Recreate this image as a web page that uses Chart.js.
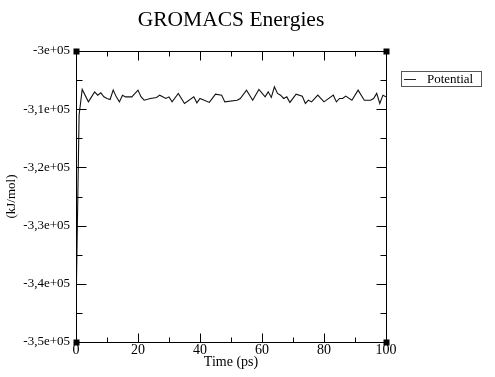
<!DOCTYPE html>
<html>
<head>
<meta charset="utf-8">
<script src="https://cdn.jsdelivr.net/npm/chart.js@4/dist/chart.umd.min.js"></script>
<style>
html,body{margin:0;padding:0;background:#fff;}
#wrap{width:495px;height:377px;position:relative;}
</style>
</head>
<body>
<div id="wrap"><canvas id="c" width="495" height="377"></canvas></div>
<script>
const chartTitle = 'GROMACS Energies';
const xAxisTitle = 'Time (ps)';
const yAxisTitle = '(kJ/mol)';
const seriesName = 'Potential';
const timePs = [0,1,2,4,6,7,8,9,10,11,12,13,14,15,16,18,20,21,22,24,26,27,29,30,31,33,35,38,39,40,43,45,47,48,52,53,55,57,59,61,62,63,64,65,66,67,68,69,71,73,74,75,76,78,80,83,84,85,86,87,89,91,93,95,96,97,98,99,100];
const potential = [-345000,-311000,-306600,-308740,-307020,-307590,-307190,-307880,-308160,-308330,-306720,-307880,-308740,-307590,-307880,-307880,-306720,-307880,-308450,-308160,-307980,-307590,-308160,-307880,-308740,-307290,-309020,-307880,-308910,-308160,-308840,-307410,-307590,-308740,-308450,-308160,-306720,-308450,-306600,-307880,-307020,-307980,-306160,-307290,-307590,-308160,-307880,-308840,-307410,-307760,-309020,-308450,-308740,-307590,-308740,-307590,-308740,-308160,-308160,-307760,-308450,-306720,-308450,-308450,-308160,-307290,-309020,-307590,-307880];
const yTickValues = [-350000,-340000,-330000,-320000,-310000,-300000];
const yTickLabels = ['-3,5e+05','-3,4e+05','-3,3e+05','-3,2e+05','-3,1e+05','-3e+05'];
const xTickValues = [0,20,40,60,80,100];
const xTickLabels = ['0','20','40','60','80','100'];

const SERIF = '"Liberation Serif", "DejaVu Serif", serif';

const framePlugin = {
  id: 'frame',
  afterDraw(chart) {
    const ctx = chart.ctx;
    const a = chart.chartArea;
    const xs = chart.scales.x, ys = chart.scales.y;
    ctx.save();
    ctx.strokeStyle = '#000';
    ctx.lineWidth = 1;
    const L = Math.round(a.left) + 0.5, R = Math.round(a.right) + 0.5;
    const T = Math.round(a.top) + 0.5, B = Math.round(a.bottom) + 0.5;
    ctx.beginPath();
    ctx.rect(L, T, R - L, B - T);
    ctx.stroke();
    for (let v = 0; v <= 100; v += 10) {
      const px = Math.round(xs.getPixelForValue(v)) + 0.5;
      const len = (v % 20 === 0) ? 9 : 5;
      ctx.beginPath();
      ctx.moveTo(px, B); ctx.lineTo(px, B - len);
      ctx.moveTo(px, T); ctx.lineTo(px, T + len);
      ctx.stroke();
    }
    for (let v = -350000; v <= -300000; v += 5000) {
      const py = Math.round(ys.getPixelForValue(v)) + 0.5;
      const len = (v % 10000 === 0) ? 10 : 6;
      ctx.beginPath();
      ctx.moveTo(L, py); ctx.lineTo(L + len, py);
      ctx.moveTo(R, py); ctx.lineTo(R - len, py);
      ctx.stroke();
    }
    ctx.fillStyle = '#000';
    [[L, T], [R, T], [L, B], [R, B]].forEach(p => ctx.fillRect(p[0] - 3, p[1] - 3, 6, 6));
    ctx.font = '21.5px ' + SERIF;
    ctx.textAlign = 'center';
    ctx.textBaseline = 'alphabetic';
    ctx.fillText(chartTitle, 231, 26);
    ctx.strokeStyle = '#555';
    ctx.strokeRect(401.5, 71.5, 80, 15);
    ctx.strokeStyle = '#222';
    ctx.beginPath();
    ctx.moveTo(404, 79.5); ctx.lineTo(416, 79.5);
    ctx.stroke();
    ctx.font = '13px ' + SERIF;
    ctx.textAlign = 'left';
    ctx.textBaseline = 'middle';
    ctx.fillText(seriesName, 427, 80);
    ctx.restore();
  }
};

new Chart(document.getElementById('c'), {
  type: 'line',
  data: {
    datasets: [{
      label: seriesName,
      data: timePs.map((t, i) => ({x: t, y: potential[i]})),
      borderColor: '#111',
      borderWidth: 1.1,
      pointRadius: 0,
      tension: 0,
      fill: false
    }]
  },
  options: {
    responsive: false,
    animation: false,
    layout: {padding: {top: 51, right: 109, left: 0, bottom: 0}},
    plugins: {legend: {display: false}, title: {display: false}, tooltip: {enabled: false}},
    scales: {
      x: {
        type: 'linear', min: 0, max: 100,
        afterFit(s) { s.height = 35; },
        afterBuildTicks(s) { s.ticks = xTickValues.map(v => ({value: v})); },
        ticks: {
          callback: (v) => xTickLabels[xTickValues.indexOf(v)],
          font: {family: SERIF, size: 14}, color: '#000', padding: 0, maxRotation: 0, autoSkip: false
        },
        grid: {display: false, drawTicks: false},
        border: {display: false},
        title: {display: true, text: xAxisTitle, font: {family: SERIF, size: 14}, color: '#000', padding: {top: 0, bottom: 6}}
      },
      y: {
        type: 'linear', min: -350000, max: -300000,
        afterFit(s) { s.width = 76; },
        afterBuildTicks(s) { s.ticks = yTickValues.map(v => ({value: v})); },
        ticks: {
          callback: (v) => yTickLabels[yTickValues.indexOf(v)],
          font: {family: SERIF, size: 13}, color: '#000', padding: 6, autoSkip: false
        },
        grid: {display: false, drawTicks: false},
        border: {display: false},
        title: {display: true, text: yAxisTitle, font: {family: SERIF, size: 13}, color: '#000', padding: {top: 4, bottom: 0}}
      }
    }
  },
  plugins: [framePlugin]
});
</script>
</body>
</html>
